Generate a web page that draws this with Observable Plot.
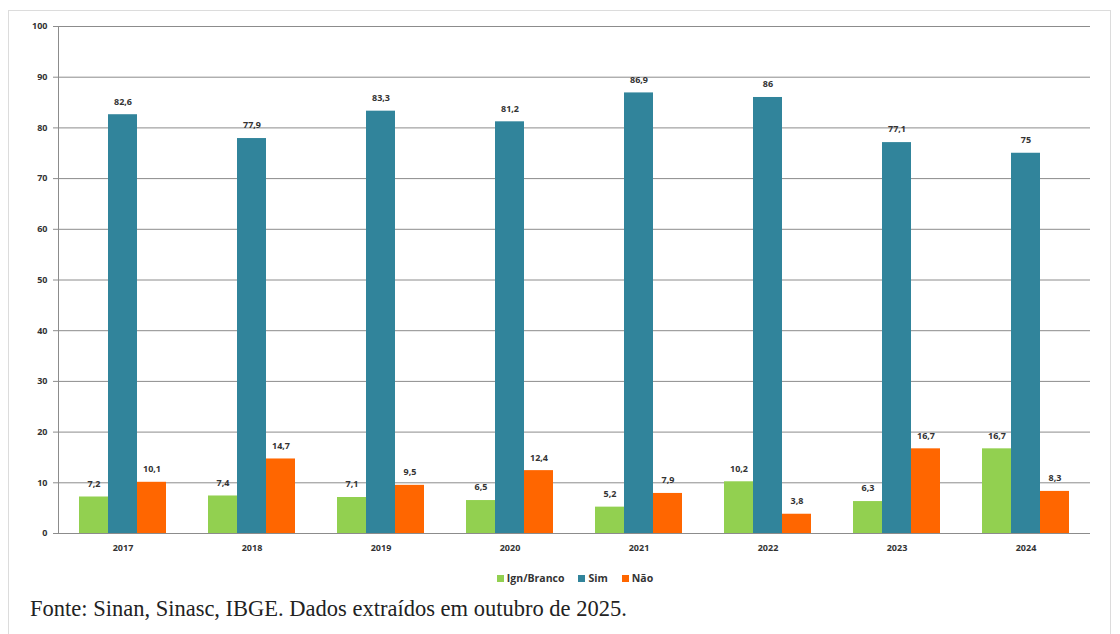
<!DOCTYPE html>
<html>
<head>
<meta charset="utf-8">
<script src="https://cdn.jsdelivr.net/npm/d3@7"></script>
<script src="https://cdn.jsdelivr.net/npm/@observablehq/plot@0.6"></script>
<style>
  html, body { margin: 0; padding: 0; background: #fff; }
  #page { position: relative; width: 1120px; height: 634px; overflow: hidden; }
  #box { position: absolute; left: 8px; top: 10px; width: 1103px; height: 640px;
         border: 1px solid #dcdcdc; box-sizing: border-box; }
  #chart { position: absolute; left: 0; top: 0; }
  #legend { position: absolute; top: 571px; left: 0; width: 1150px; display: flex;
            justify-content: center; gap: 14px; font: bold 10.5px "Open Sans", sans-serif; color: #333; }
  #legend span.item { display: flex; align-items: center; gap: 3px; }
  #legend i { display: inline-block; width: 7px; height: 7px; }
  #caption { position: absolute; left: 30px; top: 596px; font: 22.5px "Liberation Serif", serif; color: #222; }
</style>
</head>
<body>
<div id="page">
  <div id="box"></div>
  <div id="chart"></div>
  <div id="legend"></div>
  <div id="caption">Fonte: Sinan, Sinasc, IBGE. Dados extraídos em outubro de 2025.</div>
</div>
<script>
// Anos e séries
const years = ["2017", "2018", "2019", "2020", "2021", "2022", "2023", "2024"];
const seriesNames = ["Ign/Branco", "Sim", "Não"];
const ignBranco = [7.2, 7.4, 7.1, 6.5, 5.2, 10.2, 6.3, 16.7];
const sim = [82.6, 77.9, 83.3, 81.2, 86.9, 86, 77.1, 75];
const nao = [10.1, 14.7, 9.5, 12.4, 7.9, 3.8, 16.7, 8.3];
const yTicks = [0, 10, 20, 30, 40, 50, 60, 70, 80, 90, 100];
const colors = ["#92d050", "#31849b", "#ff6600"];

// Tabela longa para o Plot
const values = [ignBranco, sim, nao];
const rows = [];
years.forEach((year, i) => {
  seriesNames.forEach((s, j) => rows.push({year, series: s, value: values[j][i]}));
});

const fmt = v => String(v).replace(".", ",");
const labelFont = {fontSize: 9, fontWeight: "bold", fill: "#333"};

const chart = Plot.plot({
  width: 1120,
  height: 560,
  marginLeft: 57,
  marginRight: 30,
  marginTop: 26,
  marginBottom: 27,
  style: {fontFamily: "'Open Sans', sans-serif", background: "transparent", overflow: "visible"},
  fx: {domain: years, padding: 0, label: null},
  x: {domain: seriesNames, paddingInner: 0, paddingOuter: 0.72, axis: null},
  y: {domain: [0, 100], label: null},
  color: {domain: seriesNames, range: colors},
  marks: [
    Plot.gridY(yTicks, {stroke: "#8c8c8c", strokeOpacity: 1, strokeWidth: 1}),
    Plot.axisY(yTicks, {tickSize: 5, tickPadding: 6, stroke: "#8c8c8c", ...labelFont, tickFormat: d => d}),
    Plot.frame({anchor: "left", facetAnchor: "left", stroke: "#8c8c8c"}),
    Plot.axisFx({anchor: "bottom", tickSize: 0, tickPadding: 11, ...labelFont}),
    Plot.barY(rows, {fx: "year", x: "series", y: "value", fill: "series"}),
    Plot.ruleY([0], {stroke: "#8c8c8c"}),
    Plot.text(rows, {fx: "year", x: "series", y: "value", text: d => fmt(d.value), dy: -13, ...labelFont})
  ]
});
document.getElementById("chart").append(chart);

// Legenda
const legend = document.getElementById("legend");
seriesNames.forEach((s, j) => {
  const item = document.createElement("span");
  item.className = "item";
  item.innerHTML = `<i style="background:${colors[j]}"></i>${s}`;
  legend.append(item);
});
</script>
</body>
</html>
